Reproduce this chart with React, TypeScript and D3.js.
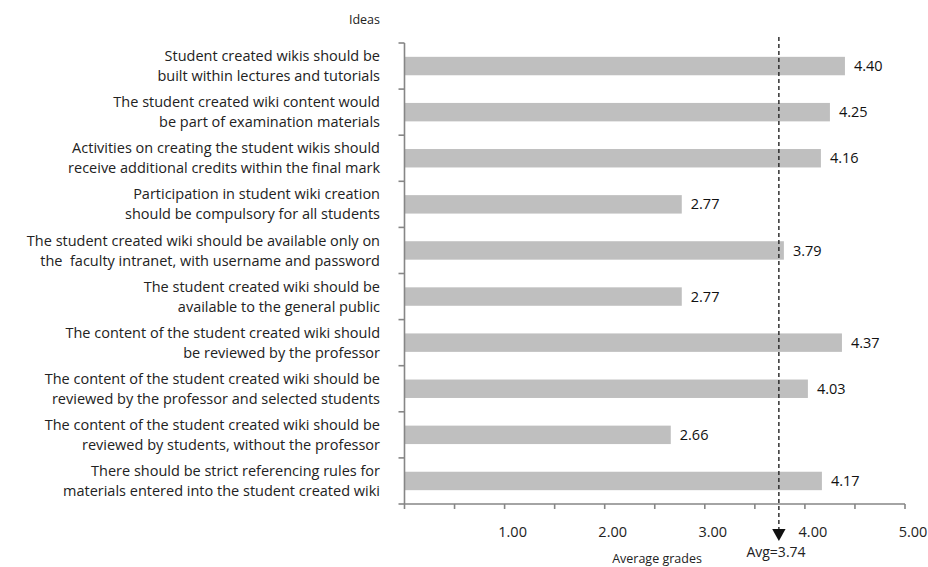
import React from 'react';
import * as d3 from 'd3';

const ideas: string[][] = [
  ['Student created wikis should be', 'built within lectures and tutorials'],
  ['The student created wiki content would', 'be part of examination materials'],
  ['Activities on creating the student wikis should', 'receive additional credits within the final mark'],
  ['Participation in student wiki creation', 'should be compulsory for all students'],
  ['The student created wiki should be available only on', 'the  faculty intranet, with username and password'],
  ['The student created wiki should be', 'available to the general public'],
  ['The content of the student created wiki should', 'be reviewed by the professor'],
  ['The content of the student created wiki should be', 'reviewed by the professor and selected students'],
  ['The content of the student created wiki should be', 'reviewed by students, without the professor'],
  ['There should be strict referencing rules for', 'materials entered into the student created wiki'],
];
const grades: number[] = [4.4, 4.25, 4.16, 2.77, 3.79, 2.77, 4.37, 4.03, 2.66, 4.17];
const tickLabels: number[] = [1, 2, 3, 4, 5];
const minorTicks: number[] = d3.range(0, 5.01, 0.5);
const average = 3.74;

const W = 928;
const H = 567;
const FONT = '"Open Sans", Lato, sans-serif';
const AXIS = '#868686';

export default function App() {
  const top = 43;
  const bottom = 504;

  const x = d3.scaleLinear().domain([0, 5]).range([404.5, 905]);

  const y = d3
    .scaleBand<number>()
    .domain(d3.range(ideas.length))
    .range([top, bottom])
    .paddingInner(0.6)
    .paddingOuter(0.3);
  const step = y.step();
  const boundaries = d3.range(ideas.length + 1).map(i => top + i * step);

  const avgX = x(average);

  return (
    <svg
      width={W}
      height={H}
      style={{ position: 'absolute', left: 0, top: 0, background: '#fff' }}
      fontFamily={FONT}
    >
      {/* title of categories */}
      <text x={380} y={20} dy="0.35em" fontSize={12.5} textAnchor="end" fill="#222">
        Ideas
      </text>

      {/* category labels */}
      {ideas.map((lines, i) => {
        const cy = (y(i) || 0) + y.bandwidth() / 2;
        return (
          <text key={i} x={380} fontSize={14.5} textAnchor="end" fill="#222" style={{ whiteSpace: 'pre' }}>
            <tspan x={380} y={cy - 10} dy="0.35em">{lines[0]}</tspan>
            <tspan x={380} y={cy + 10} dy="0.35em">{lines[1]}</tspan>
          </text>
        );
      })}

      {/* bars */}
      {grades.map((v, i) => (
        <g key={i}>
          <rect
            x={x(0)}
            y={y(i)}
            width={x(v) - x(0)}
            height={y.bandwidth()}
            fill="#bfbfbf"
          />
          <text
            x={x(v) + 9}
            y={(y(i) || 0) + y.bandwidth() / 2}
            dy="0.35em"
            fontSize={14.5}
            fill="#111"
          >
            {v.toFixed(2)}
          </text>
        </g>
      ))}

      {/* y axis */}
      <line x1={404.5} x2={404.5} y1={top} y2={bottom} stroke={AXIS} strokeWidth={1.6} />
      {boundaries.map((b, i) => (
        <line key={i} x1={398.5} x2={404.5} y1={b} y2={b} stroke={AXIS} strokeWidth={1.6} />
      ))}

      {/* x axis */}
      <line x1={x(0)} x2={x(5)} y1={bottom} y2={bottom} stroke={AXIS} strokeWidth={1.6} />
      {minorTicks.map((t, i) => (
        <line
          key={i}
          x1={x(t)}
          x2={x(t)}
          y1={bottom}
          y2={bottom + 5}
          stroke={AXIS}
          strokeWidth={1.6}
        />
      ))}
      {tickLabels.map((t, i) => (
        <text
          key={i}
          x={x(t) + 8}
          y={532}
          dy="0.35em"
          fontSize={14.5}
          textAnchor="middle"
          fill="#222"
        >
          {t.toFixed(2)}
        </text>
      ))}
      <text x={657} y={559} dy="0.35em" fontSize={12.5} textAnchor="middle" fill="#222">
        Average grades
      </text>

      {/* average marker */}
      <line
        x1={avgX}
        x2={avgX}
        y1={37}
        y2={530}
        stroke="#222"
        strokeWidth={1.4}
        strokeDasharray="4,3"
      />
      <path
        d={`M${avgX - 6.7},529 L${avgX + 6.7},529 L${avgX},541 Z`}
        fill="#111"
      />
      <text x={776} y={552} dy="0.35em" fontSize={14} textAnchor="middle" fill="#222">
        Avg=3.74
      </text>
    </svg>
  );
}
